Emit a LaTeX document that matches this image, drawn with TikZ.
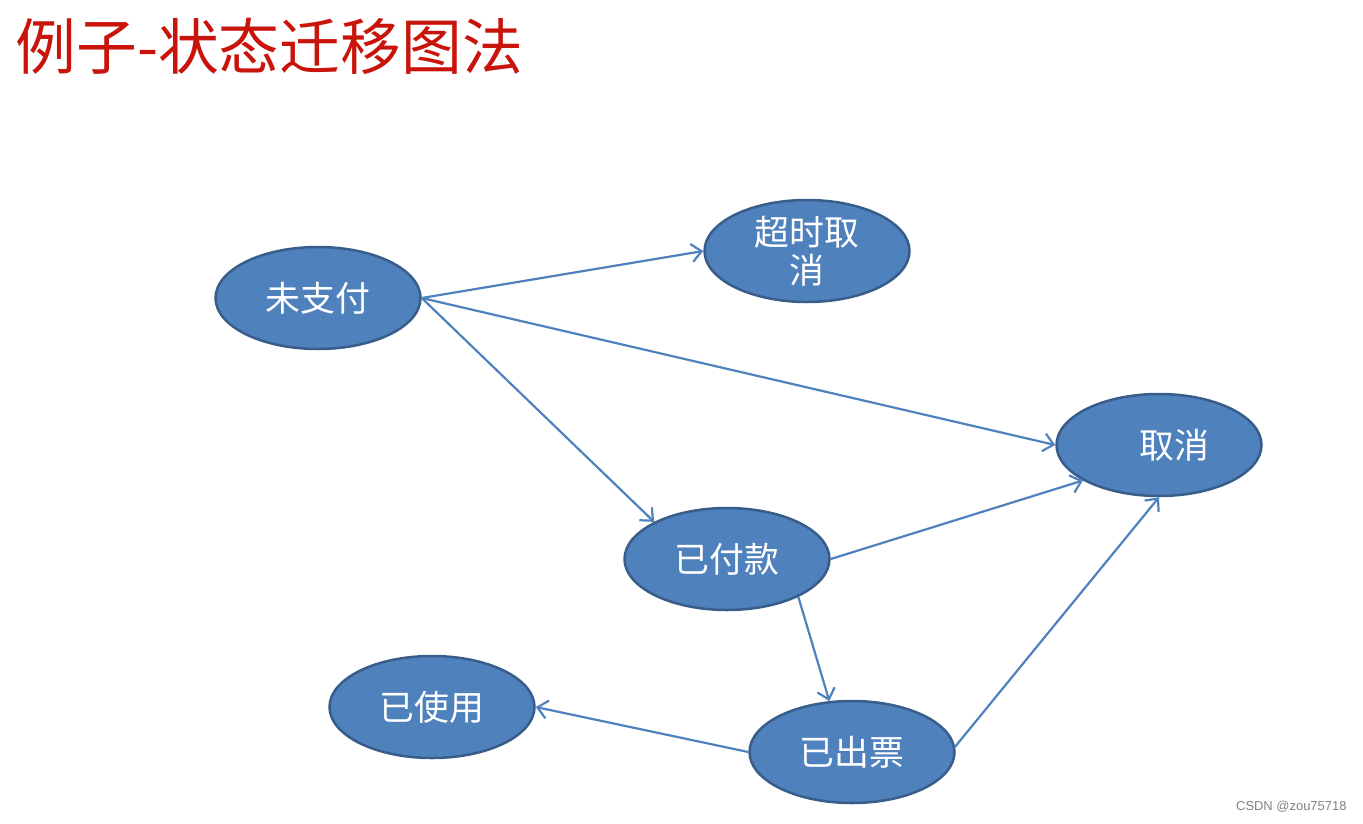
\documentclass[tikz,border=0pt]{standalone}
\usepackage{fontspec}
\usepackage{xcolor}
\usetikzlibrary{shapes.geometric,arrows.meta}
\setmainfont{Noto Sans CJK SC}
\setsansfont{Liberation Sans}
\definecolor{stateblue}{HTML}{4F81BD}
\definecolor{stateedge}{HTML}{385D8A}
\definecolor{titlered}{HTML}{C8140A}

\begin{document}
\begin{tikzpicture}[x=1bp, y=-1bp,
    state/.style={ellipse, draw=stateedge, line width=2.5bp, fill=stateblue, text=white,
        minimum width=205bp, minimum height=102bp, inner sep=0pt, align=center,
        font=\fontsize{35}{38}\selectfont},
    trans/.style={draw=stateblue, line width=2.2bp, -{Straight Barb[length=10bp,width=18bp]}}]
    \useasboundingbox (0,0) rectangle (1363,823);
    \node[text=titlered, anchor=west, font=\fontsize{61}{63}\selectfont] (title) at (12,46) {例子-状态迁移图法};

    \node[state] (unpaid) at (318,298) {未支付};
    \node[state] (timeout) at (807,251) {超时取\\消};
    \node[state] (cancel) at (1159,445) {\hspace*{30bp}取消};
    \node[state] (paid) at (727,559) {已付款};
    \node[state] (used) at (432,707) {已使用};
    \node[state] (issued) at (852,752) {已出票};

    \draw[trans] (unpaid.east) -- (timeout.west);
    \draw[trans] (unpaid.east) -- (cancel.west);
    \draw[trans] (unpaid.east) -- (paid.153);
    \draw[trans] (paid.east) -- (cancel.205);
    \draw[trans] (paid.332) -- (issued.114);
    \draw[trans] (issued.3) -- (cancel.south);
    \draw[trans] (issued.west) -- (used.east);

    \node[anchor=east, text=gray, font=\sffamily\fontsize{13}{14}\selectfont] (mark) at (1350,807) {CSDN @zou75718};
\end{tikzpicture}
\end{document}
